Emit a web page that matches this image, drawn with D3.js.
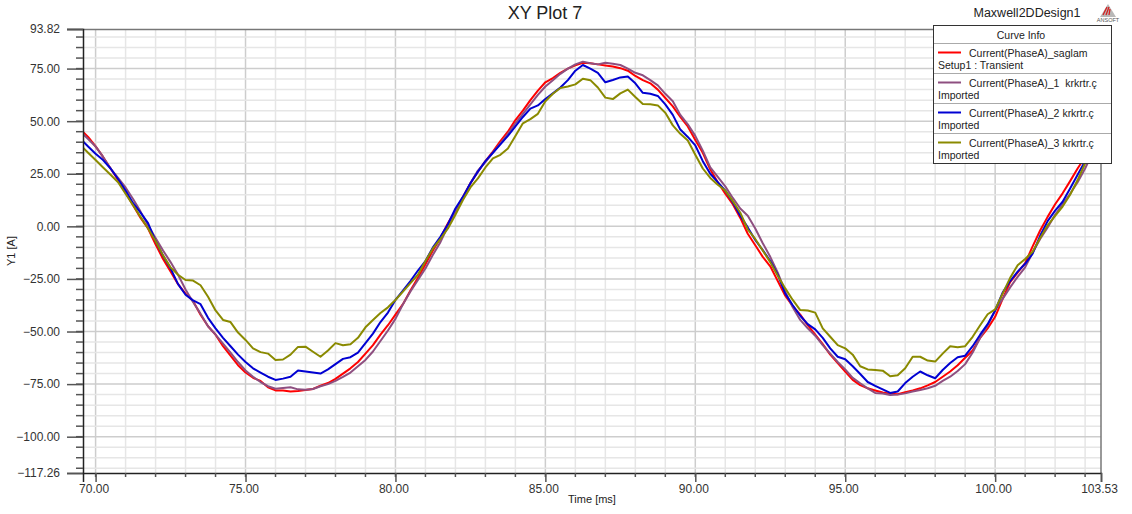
<!DOCTYPE html>
<html>
<head>
<meta charset="utf-8">
<script src="https://cdn.jsdelivr.net/npm/d3@7"></script>
<style>
  html, body { margin: 0; padding: 0; background: #fff; }
  svg { display: block; font-family: "Liberation Sans", Arial, sans-serif; }
</style>
</head>
<body>
<svg id="chart" width="1132" height="514"></svg>
<script>
// ---------------- DATA ----------------
const times = [
  69.5, 69.75,
  70, 70.25, 70.5, 70.75, 71, 71.25, 71.5, 71.75, 72, 72.25, 72.5, 72.75,
  73, 73.25, 73.5, 73.75, 74, 74.25, 74.5, 74.75, 75, 75.25, 75.5, 75.75,
  76, 76.25, 76.5, 76.75, 77, 77.25, 77.5, 77.75, 78, 78.25, 78.5, 78.75,
  79, 79.25, 79.5, 79.75, 80, 80.25, 80.5, 80.75, 81, 81.25, 81.5, 81.75,
  82, 82.25, 82.5, 82.75, 83, 83.25, 83.5, 83.75, 84, 84.25, 84.5, 84.75,
  85, 85.25, 85.5, 85.75, 86, 86.25, 86.5, 86.75, 87, 87.25, 87.5, 87.75,
  88, 88.25, 88.5, 88.75, 89, 89.25, 89.5, 89.75, 90, 90.25, 90.5, 90.75,
  91, 91.25, 91.5, 91.75, 92, 92.25, 92.5, 92.75, 93, 93.25, 93.5, 93.75,
  94, 94.25, 94.5, 94.75, 95, 95.25, 95.5, 95.75, 96, 96.25, 96.5, 96.75,
  97, 97.25, 97.5, 97.75, 98, 98.25, 98.5, 98.75, 99, 99.25, 99.5, 99.75,
  100, 100.25, 100.5, 100.75, 101, 101.25, 101.5, 101.75, 102, 102.25, 102.5, 102.75,
  103, 103.25, 103.5, 103.75
];

const currentSaglam = [
  46, 42.5,
  38, 33, 27.5, 22,   16, 10, 4, -1,   -8.5, -15.5, -21.5, -27.5,
  -32, -35.5, -42, -47.5,   -51.5, -57, -61.5, -66,   -69.5, -72, -73.5, -76.5,
  -78, -78, -78.5, -78.3,   -77.8, -77.3, -75.8, -74.5,   -72.5, -70, -67.5, -64.5,
  -60.5, -56.5, -51.5, -47,   -42, -37, -30.5, -24.5,   -18, -11.5, -5.5, 1.5,
  7.5, 14, 20.5, 26,   31, 35.5, 40.5, 45,   50.5, 55, 60, 64.5,
  68.5, 70.5, 73, 75,   76.5, 77.8, 77.5, 77,   76.5, 76, 75.2, 74,
  71.5, 69.5, 68, 65,   61, 57, 52, 47.5,   41, 35, 27, 21,
  15.5, 10.5, 4, -3.5,   -9, -14.5, -19, -26,   -33, -38, -42, -47,
  -51.5, -56, -61, -65,   -69, -73, -75.5, -77,   -78, -79, -79.6, -79.8,
  -78.8, -78, -77, -75.6,   -74, -71.5, -69, -66,   -62.5, -59, -53, -48.5,
  -43, -34.5, -26.5, -22,   -17.5, -9.5, -2, 4.5,   10.5, 15.7, 21.5, 27.5,
  33, 38.5, 43, 47
];

const current1 = [
  45, 41.5,
  38, 33, 27.5, 23,   18.5, 13, 7, 0.5,   -5.5, -11.5, -17, -23,
  -30, -36, -41.5, -47.5,   -51.5, -55.8, -60, -64.5,   -68.5, -71.5, -74, -76,
  -77.2, -76.8, -76.5, -77.5,   -77.7, -77.3, -76, -75,   -73.5, -71.6, -69.5, -66.5,
  -63.5, -59.5, -54.5, -49.5,   -44, -37, -31, -25.5,   -20, -13.5, -7.5, 0,
  7, 13.5, 20.5, 26.5,   30.5, 35, 39.5, 44,   49, 53.5, 58, 62.5,
  66.5, 69.5, 72.5, 75,   77, 78.3, 77.5, 77,   77.8, 77.3, 76.7, 75,
  73, 71.8, 69.5, 67,   63, 59.5, 53, 48.5,   43, 36, 28, 23.5,
  19, 13.5, 8.5, 5,   -1, -8, -14.5, -22,   -31, -38.5, -44.5, -48.5,
  -52, -56.5, -60.5, -64.5,   -68, -72, -74.6, -77,   -79.2, -79.5, -80.2, -80,
  -79.4, -78.5, -77.8, -77,   -75.8, -73.5, -71.5, -68.8,   -65.5, -60, -53, -47,
  -40, -34.5, -29, -24,   -19.5, -12.5, -6, -0.5,   5.5, 10.5, 15.5, 21,
  27.5, 35, 40, 44
];

const current2 = [
  41.5, 38,
  34.5, 31.5, 27.5, 22.5,   17, 11, 6.5, 1.5,   -7, -14, -20, -27.5,
  -32.5, -35.2, -37, -43.5,   -48.5, -53, -57, -61,   -64.5, -67.5, -69.5, -71.5,
  -73, -72.4, -71.5, -68.5,   -69, -69.5, -70, -68,   -65.5, -63, -62.2, -60,
  -55.5, -51, -45.5, -41,   -35, -30.5, -26, -21,   -16.5, -10, -5, 1,
  8.5, 14, 20.5, 26,   31, 35, 39, 43,   47.5, 52, 56, 57.5,
  60.5, 63.2, 66, 69.5,   74, 76.7, 75, 73,   68.5, 69.6, 70.8, 71.2,
  68, 63.5, 63, 62,   58, 53, 46, 42.5,   38.5, 31, 25, 21,
  17, 11.5, 5, -0.5,   -6.5, -11.3, -16.5, -23,   -32, -37.5, -42.5, -46.5,
  -49, -53, -58, -62,   -63.2, -66.5, -70.2, -74,   -75.8, -77.5, -79.2, -78.5,
  -74.5, -71.5, -69, -70.8,   -72.2, -68.3, -65, -62.2,   -61.5, -57, -51.5, -46.5,
  -40, -31.5, -26, -21.5,   -17.8, -13, -4.5, 2.5,   7.5, 11.7, 18, 24.5,
  31, 37.9, 42, 46
];

const current3 = [
  38.5, 35,
  31.5, 28, 24.5, 21,   15.5, 10, 4.5, -1,   -7, -13.8, -19.5, -23,
  -25.5, -25.8, -28, -33.5,   -40, -44.5, -45.5, -50.5,   -54, -58, -59.8, -60.5,
  -63.5, -63.3, -61, -57.3,   -57.2, -59.6, -62, -59,   -55.5, -56.5, -56, -53,
  -48, -44.5, -41.2, -38.5,   -35, -31, -27, -23,   -16.5, -10.5, -6, -1,
  5.5, 12.5, 18.5, 22.8,   28, 32.3, 34, 37,   43, 49, 51, 53.5,
  59.5, 63, 65.8, 66.5,   67.5, 70.2, 69.5, 66,   61.2, 60.5, 63.2, 65,
  61.5, 58.2, 58, 57.5,   54, 48, 44, 40.8,   34, 27.5, 23, 19.8,
  17, 12, 6.5, -1.5,   -6, -11.5, -17, -23.5,   -29.5, -35, -39.8, -40,
  -41, -48.5, -52.5, -56.5,   -58, -61, -66.5, -68,   -68.3, -68.6, -71.3, -70.8,
  -67.5, -62, -62, -63.8,   -64.3, -60.5, -57, -57.5,   -57, -52.5, -47, -41.8,
  -39.5, -32, -24.5, -18.5,   -15.5, -12.1, -5.5, 0.5,   5, 9.4, 15, 22,
  30, 37, 40.5, 44
];

const seriesNames = [
  "Current(PhaseA)_saglam",
  "Current(PhaseA)_1  krkrtr.\u00e7",
  "Current(PhaseA)_2 krkrtr.\u00e7",
  "Current(PhaseA)_3 krkrtr.\u00e7"
];
const seriesSub = ["Setup1 : Transient", "Imported", "Imported", "Imported"];
const seriesValues = [currentSaglam, current1, current2, current3];
const seriesColors = ["#ff0000", "#8e4f80", "#0000d2", "#8a8a00"];

const xDomain = [69.58, 103.53];
const yDomain = [-117.26, 93.82];
const xTickValues = [70, 75, 80, 85, 90, 95, 100, 103.53];
const yTickValues = [93.82, 75, 50, 25, 0, -25, -50, -75, -100, -117.26];
const xMinor = [70,71,72,73,74,75,76,77,78,79,80,81,82,83,84,85,86,87,88,89,90,91,92,93,94,95,96,97,98,99,100,101,102,103];
const yMinor = [90,85,80,75,70,65,60,55,50,45,40,35,30,25,20,15,10,5,0,-5,-10,-15,-20,-25,-30,-35,-40,-45,-50,-55,-60,-65,-70,-75,-80,-85,-90,-95,-100,-105,-110,-115];

// ---------------- DRAW ----------------
const svg = d3.select("#chart");
const L = 83, T = 29, R = 1101, B = 473;
const x = d3.scaleLinear().domain(xDomain).range([L, R]);
const y = d3.scaleLinear().domain(yDomain).range([B, T]);

// grid
const grid = svg.append("g");
grid.selectAll("line.vx").data(xMinor).join("line")
  .attr("x1", d => x(d)).attr("x2", d => x(d)).attr("y1", T).attr("y2", B)
  .attr("stroke", d => d % 5 === 0 ? "#cdcdcd" : "#e6e6e6").attr("stroke-width", 1.5);
grid.selectAll("line.hy").data(yMinor).join("line")
  .attr("y1", d => y(d)).attr("y2", d => y(d)).attr("x1", L).attr("x2", R)
  .attr("stroke", d => d % 25 === 0 ? "#cdcdcd" : "#e6e6e6").attr("stroke-width", 1.5);

// lines
svg.append("clipPath").attr("id", "clip").append("rect")
  .attr("x", L).attr("y", T).attr("width", R - L).attr("height", B - T);
const line = d3.line().x((d, i) => x(times[i])).y(d => y(d));
const plot = svg.append("g").attr("clip-path", "url(#clip)");
seriesValues.forEach((vals, k) => {
  plot.append("path").datum(vals).attr("d", line)
    .attr("fill", "none").attr("stroke", seriesColors[k])
    .attr("stroke-width", 2).attr("stroke-linejoin", "round");
});

// borders
svg.append("line").attr("x1", 67).attr("x2", R).attr("y1", T + 0.5).attr("y2", T + 0.5)
  .attr("stroke", "#777").attr("stroke-width", 1.5);
svg.append("line").attr("x1", R).attr("x2", R).attr("y1", T).attr("y2", B)
  .attr("stroke", "#777").attr("stroke-width", 1.5);

// axes
const fmt = d3.format(".2f");
const yAxis = svg.append("g").attr("transform", `translate(${L},0)`)
  .call(d3.axisLeft(y).tickValues(yTickValues).tickFormat(fmt).tickSize(16).tickPadding(7));
const xAxis = svg.append("g").attr("transform", `translate(0,${B})`)
  .call(d3.axisBottom(x).tickValues(xTickValues).tickFormat(fmt).tickSize(9).tickPadding(2));
[yAxis, xAxis].forEach(a => {
  a.select(".domain").attr("stroke", "#222").attr("stroke-width", 1.5);
  a.selectAll(".tick line").attr("stroke", "#555").attr("stroke-width", 1.5);
  a.selectAll(".tick text").attr("fill", "#333").style("font-size", "12px")
    .style("font-family", "'Liberation Sans', Arial, sans-serif");
});
xAxis.selectAll(".tick text").attr("dx", -2);
// minor ticks
svg.append("g").selectAll("line").data(yMinor).join("line")
  .attr("x1", L - 7).attr("x2", L).attr("y1", d => y(d)).attr("y2", d => y(d))
  .attr("stroke", "#555").attr("stroke-width", 1.5);
svg.append("g").selectAll("line").data(xMinor).join("line")
  .attr("y1", B).attr("y2", B + 4).attr("x1", d => x(d)).attr("x2", d => x(d))
  .attr("stroke", "#555").attr("stroke-width", 1.5);

// titles
svg.append("text").attr("x", 545).attr("y", 19).attr("text-anchor", "middle")
  .style("font-size", "18px").attr("fill", "#222").text("XY Plot 7");
svg.append("text").attr("x", 1027).attr("y", 17).attr("text-anchor", "middle")
  .style("font-size", "12.5px").attr("fill", "#222").text("Maxwell2DDesign1");
svg.append("text").attr("transform", "translate(15,251) rotate(-90)").attr("text-anchor", "middle")
  .style("font-size", "11px").attr("fill", "#222").text("Y1 [A]");
svg.append("text").attr("x", 592).attr("y", 503).attr("text-anchor", "middle")
  .style("font-size", "11px").attr("fill", "#222").text("Time [ms]");

// logo
const logo = svg.append("g").attr("transform", "translate(1108,4)");
logo.append("path").attr("d", "M0,0 L-8,13 L8,13 Z").attr("fill", "#b8b8b8");
logo.append("path").attr("d", "M-1,3 L-5,11 M1,3 L-2,11 M2,5 L1,11").attr("stroke", "#d42020").attr("stroke-width", 1.3);
logo.append("text").attr("x", 0).attr("y", 18).attr("text-anchor", "middle")
  .style("font-size", "5.5px").attr("fill", "#555").text("ANSOFT");

// legend
const lg = svg.append("g");
lg.append("rect").attr("x", 933.5).attr("y", 25.5).attr("width", 178).attr("height", 138)
  .attr("fill", "#fff").attr("stroke", "#333").attr("stroke-width", 1);
lg.append("text").attr("x", 1021).attr("y", 39).attr("text-anchor", "middle")
  .style("font-size", "10.5px").attr("fill", "#222").text("Curve Info");
seriesNames.forEach((name, i) => {
  const top = 43.5 + 30 * i;
  lg.append("line").attr("x1", 934).attr("x2", 1111).attr("y1", top).attr("y2", top)
    .attr("stroke", "#aaa").attr("stroke-width", 1);
  lg.append("line").attr("x1", 938).attr("x2", 961).attr("y1", top + 9).attr("y2", top + 9)
    .attr("stroke", seriesColors[i]).attr("stroke-width", 2);
  lg.append("text").attr("x", 969).attr("y", top + 13)
    .style("font-size", "10.5px").attr("fill", "#222").attr("xml:space", "preserve")
    .style("white-space", "pre").text(name);
  lg.append("text").attr("x", 938).attr("y", top + 25.5)
    .style("font-size", "10.5px").attr("fill", "#222").text(seriesSub[i]);
});
</script>
</body>
</html>
